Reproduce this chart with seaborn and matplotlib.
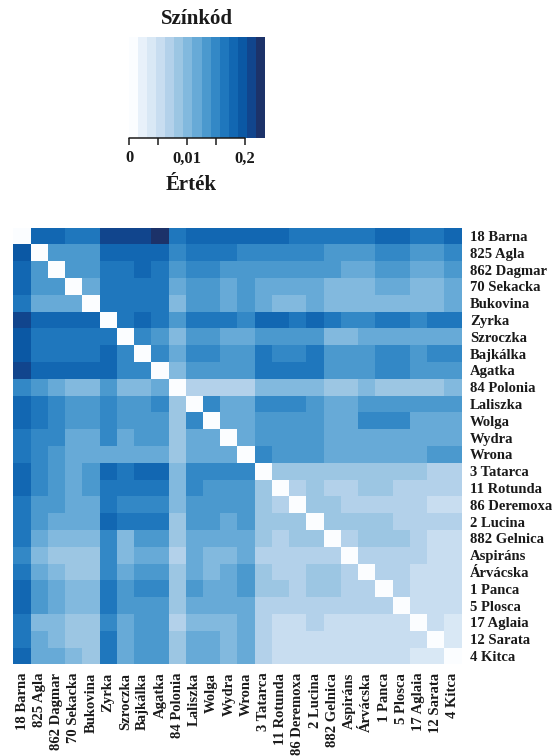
import numpy as np
import pandas as pd
import matplotlib
matplotlib.use("Agg")
import matplotlib.pyplot as plt
from matplotlib.colors import ListedColormap
import seaborn as sns

# Cultivar names, in the order used for both rows and columns
cultivars = [
    "18 Barna", "825 Agla", "862 Dagmar", "70 Sekacka", "Bukovina",
    "Zyrka", "Szroczka", "Bajkálka", "Agatka", "84 Polonia",
    "Laliszka", "Wolga", "Wydra", "Wrona", "3 Tatarca",
    "11 Rotunda", "86 Deremoxa", "2 Lucina", "882 Gelnica", "Aspiráns",
    "Árvácska", "1 Panca", "5 Plosca", "17 Aglaia", "12 Sarata", "4 Kitca",
]

# Colour-code class of every pairwise comparison (0 = lightest band, 14 = darkest)
code_matrix = [
    [0, 11, 11, 10, 10, 13, 13, 13, 14, 10, 11, 11, 11, 11, 11, 11, 10, 10, 10, 10, 10, 11, 11, 10, 10, 11],
    [12, 0, 8, 8, 8, 11, 11, 11, 11, 9, 10, 10, 10, 9, 9, 9, 9, 9, 8, 8, 8, 9, 9, 8, 8, 9],
    [11, 8, 0, 8, 8, 10, 10, 11, 10, 8, 9, 9, 8, 8, 8, 8, 8, 8, 8, 7, 7, 8, 8, 7, 7, 8],
    [11, 8, 8, 0, 7, 10, 10, 10, 10, 7, 8, 8, 7, 8, 7, 7, 7, 7, 6, 6, 6, 7, 7, 6, 6, 7],
    [10, 7, 7, 7, 0, 10, 10, 10, 10, 6, 8, 8, 7, 8, 7, 6, 6, 7, 6, 6, 6, 6, 6, 6, 6, 7],
    [13, 11, 11, 11, 11, 0, 10, 11, 10, 8, 10, 10, 10, 9, 11, 11, 10, 11, 10, 9, 9, 10, 10, 9, 10, 10],
    [12, 10, 10, 10, 10, 10, 0, 9, 8, 6, 8, 8, 7, 7, 8, 8, 8, 8, 6, 6, 7, 7, 7, 7, 7, 7],
    [12, 10, 10, 10, 10, 11, 9, 0, 9, 7, 9, 9, 8, 8, 10, 9, 9, 10, 8, 8, 8, 9, 9, 8, 9, 9],
    [13, 11, 11, 11, 11, 11, 9, 9, 0, 6, 8, 8, 8, 8, 10, 10, 10, 10, 8, 8, 8, 9, 9, 8, 8, 8],
    [9, 8, 7, 6, 6, 8, 6, 6, 7, 0, 4, 4, 4, 4, 6, 6, 6, 6, 5, 5, 6, 5, 5, 5, 5, 6],
    [11, 10, 9, 8, 8, 9, 8, 8, 9, 5, 0, 9, 7, 7, 9, 9, 9, 8, 7, 7, 8, 8, 8, 8, 8, 8],
    [11, 10, 9, 8, 8, 9, 8, 8, 8, 5, 9, 0, 7, 7, 8, 8, 8, 8, 7, 7, 9, 9, 9, 7, 7, 7],
    [10, 9, 9, 7, 7, 9, 7, 8, 8, 5, 7, 7, 0, 7, 8, 8, 8, 8, 7, 7, 7, 7, 7, 7, 7, 7],
    [10, 9, 8, 7, 7, 7, 7, 7, 7, 5, 7, 7, 7, 0, 9, 8, 8, 8, 7, 7, 7, 7, 7, 7, 8, 8],
    [11, 9, 8, 7, 8, 11, 10, 11, 11, 6, 9, 9, 9, 9, 0, 5, 5, 5, 5, 5, 5, 5, 5, 5, 4, 4],
    [11, 9, 8, 7, 8, 10, 10, 10, 10, 6, 9, 8, 8, 8, 5, 0, 4, 5, 4, 4, 5, 5, 4, 4, 4, 4],
    [10, 8, 8, 7, 7, 10, 9, 9, 9, 6, 8, 8, 8, 8, 5, 4, 0, 5, 5, 4, 4, 4, 4, 4, 3, 3],
    [10, 8, 7, 7, 7, 11, 10, 10, 10, 5, 8, 8, 7, 8, 5, 5, 5, 0, 5, 5, 5, 5, 4, 4, 4, 4],
    [10, 7, 6, 6, 6, 9, 6, 8, 8, 5, 7, 7, 7, 7, 5, 4, 5, 5, 0, 4, 5, 5, 5, 4, 3, 3],
    [9, 6, 5, 5, 5, 9, 6, 7, 7, 4, 7, 6, 6, 7, 4, 4, 4, 4, 4, 0, 4, 4, 4, 4, 3, 3],
    [10, 7, 6, 5, 5, 9, 7, 8, 8, 5, 7, 6, 7, 8, 5, 4, 4, 5, 5, 4, 0, 4, 4, 3, 3, 3],
    [11, 8, 7, 6, 6, 10, 8, 9, 9, 5, 8, 7, 7, 8, 5, 5, 4, 5, 5, 4, 4, 0, 4, 3, 3, 3],
    [11, 8, 7, 6, 6, 10, 8, 8, 8, 5, 7, 7, 7, 7, 4, 4, 4, 4, 4, 4, 4, 4, 0, 3, 3, 3],
    [10, 6, 6, 5, 5, 9, 7, 8, 8, 4, 6, 6, 6, 7, 4, 3, 3, 4, 3, 3, 3, 3, 3, 0, 3, 2],
    [10, 7, 6, 5, 5, 10, 7, 8, 8, 5, 7, 7, 6, 7, 4, 3, 3, 3, 3, 3, 3, 3, 3, 3, 0, 2],
    [11, 7, 7, 6, 5, 10, 7, 8, 8, 5, 7, 7, 6, 7, 4, 3, 3, 3, 3, 3, 3, 3, 3, 2, 2, 0],
]

# Stepped blue palette, one colour per code class
band_colors = [
    "#fbfdff", "#e8f1fa", "#d9e8f5", "#c8ddf0", "#b3d1ea",
    "#9cc6e3", "#82b9de", "#67aad7", "#4b99ce", "#3388c6",
    "#1f77bd", "#1267b2", "#0b58a4", "#11458d", "#1c3269",
]

# Value scale shown on the colour key (positions given in code classes)
key_tick_codes = [0, 3.2, 6.4, 9.6, 12.8]
key_tick_labels = ["0", "", "0,01", "", "0,2"]

sns.set_theme(style="white")
plt.rcParams["font.family"] = ["Liberation Serif", "DejaVu Serif"]
plt.rcParams["font.weight"] = "bold"
text_color = "#1a1a1a"

fig = plt.figure(figsize=(5.53, 7.56), dpi=100)
ax = fig.add_axes([0.0242, 0.1212, 0.8105, 0.5778])
cax = fig.add_axes([0.2333, 0.8175, 0.2459, 0.1336])

df = pd.DataFrame(code_matrix, index=cultivars, columns=cultivars)
cmap = ListedColormap(band_colors)
sns.heatmap(
    df, ax=ax, cmap=cmap,
    vmin=-0.5, vmax=len(band_colors) - 0.5,
    cbar_ax=cax, cbar_kws={"orientation": "horizontal"},
    xticklabels=True, yticklabels=True,
)

ax.yaxis.tick_right()
ax.tick_params(axis="both", length=0, colors=text_color)
ax.tick_params(axis="y", pad=6, labelsize=10.5, labelrotation=0)
ax.tick_params(axis="x", pad=6, labelsize=10.5, labelrotation=90)
for lbl in ax.get_xticklabels() + ax.get_yticklabels():
    lbl.set_fontweight("bold")
    lbl.set_color(text_color)

# Colour key
cbar = ax.collections[0].colorbar
cbar.outline.set_visible(False)
tick_pos = [t - 0.5 for t in key_tick_codes]
cbar.set_ticks(tick_pos)
cbar.set_ticklabels(key_tick_labels)
cax.xaxis.set_ticks_position("bottom")
cax.tick_params(axis="x", length=5, width=1.1, colors=text_color,
                labelsize=12, pad=4)
for lbl in cax.get_xticklabels():
    lbl.set_fontweight("bold")
cax.plot([tick_pos[0], tick_pos[-1]], [0, 0], color=text_color, lw=1.1,
         clip_on=False, transform=cax.get_xaxis_transform())

fig.text(0.356, 0.975, "Színkód", ha="center", va="center",
         fontsize=15, fontweight="bold", color=text_color)
fig.text(0.345, 0.755, "Érték", ha="center", va="center",
         fontsize=15, fontweight="bold", color=text_color)

fig.savefig("out.png", dpi=100, facecolor="white")
